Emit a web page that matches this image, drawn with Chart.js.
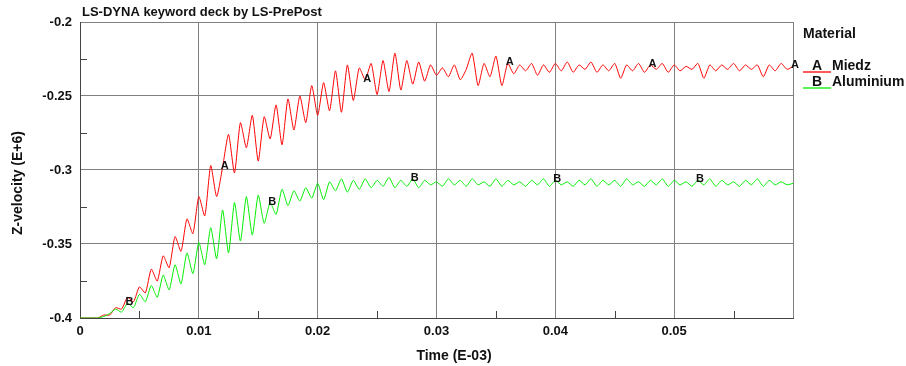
<!DOCTYPE html>
<html>
<head>
<meta charset="utf-8">
<script src="https://cdn.jsdelivr.net/npm/chart.js@4/dist/chart.umd.min.js"></script>
<style>
  body { margin: 0; background: #fff; }
  .wrap { width: 906px; height: 366px; position: relative; }
</style>
</head>
<body>
<div class="wrap"><canvas id="myChart"></canvas></div>
<script>
// time samples every 0.0005 (E-03 units), 0 .. 0.06
const timeStep = 0.0005

const miedz = [
    -0.400, -0.400, -0.400, -0.400, -0.398, -0.398, -0.393, -0.394, -0.386, -0.389,
    -0.379, -0.383, -0.367, -0.375, -0.358, -0.366, -0.345, -0.355, -0.333, -0.343,
    -0.318, -0.331, -0.297, -0.318, -0.298, -0.276, -0.302, -0.268, -0.285, -0.263,
    -0.294, -0.264, -0.279, -0.256, -0.283, -0.252, -0.273, -0.250, -0.268, -0.243,
    -0.263, -0.241, -0.260, -0.233, -0.261, -0.229, -0.253, -0.231, -0.239, -0.228,
    -0.249, -0.226, -0.247, -0.221, -0.246, -0.226, -0.242, -0.227, -0.240, -0.229,
    -0.236, -0.231, -0.237, -0.229, -0.239, -0.232, -0.221, -0.243, -0.228, -0.237,
    -0.223, -0.243, -0.228, -0.235, -0.229, -0.233, -0.228, -0.236, -0.229, -0.234,
    -0.228, -0.233, -0.227, -0.234, -0.229, -0.232, -0.227, -0.234, -0.229, -0.233,
    -0.228, -0.238, -0.229, -0.233, -0.228, -0.234, -0.229, -0.232, -0.228, -0.234,
    -0.229, -0.233, -0.230, -0.232, -0.228, -0.238, -0.229, -0.233, -0.229, -0.232,
    -0.228, -0.233, -0.229, -0.232, -0.229, -0.237, -0.229, -0.233, -0.228, -0.232,
    -0.230
]

const aluminium = [
    -0.400, -0.400, -0.400, -0.400, -0.399, -0.397, -0.394, -0.396, -0.390, -0.393,
    -0.384, -0.389, -0.378, -0.386, -0.371, -0.381, -0.364, -0.377, -0.356, -0.370,
    -0.349, -0.364, -0.339, -0.360, -0.327, -0.356, -0.322, -0.348, -0.318, -0.344,
    -0.317, -0.336, -0.322, -0.330, -0.313, -0.324, -0.314, -0.321, -0.312, -0.319,
    -0.309, -0.320, -0.308, -0.314, -0.306, -0.315, -0.307, -0.313, -0.306, -0.312,
    -0.307, -0.311, -0.305, -0.312, -0.307, -0.311, -0.306, -0.312, -0.307, -0.310,
    -0.308, -0.311, -0.306, -0.310, -0.307, -0.311, -0.306, -0.310, -0.308, -0.311,
    -0.306, -0.311, -0.307, -0.310, -0.308, -0.311, -0.307, -0.310, -0.306, -0.311,
    -0.307, -0.310, -0.308, -0.311, -0.307, -0.310, -0.306, -0.311, -0.307, -0.310,
    -0.307, -0.311, -0.306, -0.310, -0.308, -0.311, -0.307, -0.310, -0.306, -0.311,
    -0.307, -0.310, -0.308, -0.311, -0.307, -0.310, -0.306, -0.311, -0.307, -0.310,
    -0.308, -0.311, -0.307, -0.310, -0.306, -0.311, -0.307, -0.310, -0.308, -0.310,
    -0.309
]

const seriesNames = ['Miedz', 'Aluminium']
const seriesLetters = ['A', 'B']
const seriesColors = ['#ff0000', '#00ee00']
// where the curve letters sit along each curve
const letterTimes = [
    [0.012, 0.024, 0.036, 0.048, 0.060],
    [0.004, 0.016, 0.028, 0.040, 0.052]
]
const xMinor = [0.005, 0.015, 0.025, 0.035, 0.045, 0.055]
const yMinor = [-0.375, -0.325, -0.275, -0.225]

const toPoints = arr => arr.map((v, i) => ({ x: i * timeStep, y: v }))
const allSeries = [miedz, aluminium]

const font = 'Liberation Sans, Arial, Helvetica, sans-serif'

const overlay = {
    id: 'overlay',
    afterDraw(chart) {
        const { ctx, chartArea: area, scales: { x, y } } = chart
        ctx.save()

        // minor ticks, pointing into the plot
        ctx.strokeStyle = '#444'
        ctx.lineWidth = 1
        xMinor.forEach(v => {
            const px = Math.round(x.getPixelForValue(v)) + 0.5
            ctx.beginPath()
            ctx.moveTo(px, area.bottom)
            ctx.lineTo(px, area.bottom - 7)
            ctx.stroke()
        })
        yMinor.forEach(v => {
            const py = Math.round(y.getPixelForValue(v)) + 0.5
            ctx.beginPath()
            ctx.moveTo(area.left, py)
            ctx.lineTo(area.left + 7, py)
            ctx.stroke()
        })

        // curve letters on the curve points
        ctx.fillStyle = '#111'
        ctx.font = 'bold 11px ' + font
        ctx.textAlign = 'center'
        ctx.textBaseline = 'middle'
        letterTimes.forEach((times, s) => {
            times.forEach(t => {
                const idx = Math.round(t / timeStep)
                const px = x.getPixelForValue(t) + 2
                const py = y.getPixelForValue(allSeries[s][idx]) - 1
                ctx.fillText(seriesLetters[s], px, py)
            })
        })

        // title
        ctx.font = 'bold 13px ' + font
        ctx.textAlign = 'left'
        ctx.fillText('LS-DYNA keyword deck by LS-PrePost', area.left + 2, 12)

        // axis titles
        ctx.font = 'bold 14px ' + font
        ctx.textAlign = 'center'
        ctx.fillText('Time (E-03)', 454, 356)
        ctx.save()
        ctx.translate(18, 183)
        ctx.rotate(-Math.PI / 2)
        ctx.fillText('Z-velocity (E+6)', 0, 0)
        ctx.restore()

        // legend
        ctx.textAlign = 'left'
        ctx.fillText('Material', 803, 34)
        seriesNames.forEach((name, s) => {
            const ly = 66 + s * 16
            ctx.strokeStyle = seriesColors[s]
            ctx.lineWidth = 1.3
            ctx.beginPath()
            ctx.moveTo(803, ly + 6)
            ctx.lineTo(831, ly + 6)
            ctx.stroke()
            ctx.fillStyle = '#111'
            ctx.textAlign = 'center'
            ctx.fillText(seriesLetters[s], 817, ly)
            ctx.textAlign = 'left'
            ctx.fillText(name, 832, ly)
        })
        ctx.restore()
    }
}

const myChart = document.querySelector('#myChart')
const chart = new Chart(myChart.getContext('2d'), {
    type: 'line',
    data: {
        datasets: allSeries.map((arr, s) => ({
            label: seriesNames[s],
            data: toPoints(arr),
            borderColor: seriesColors[s],
            borderWidth: 1,
            pointRadius: 0,
            tension: 0.2,
            order: s === 1 ? 0 : 1
        }))
    },
    options: {
        responsive: true,
        maintainAspectRatio: false,
        animation: false,
        layout: { padding: { top: 22, right: 113, left: 0, bottom: 0 } },
        plugins: {
            legend: { display: false },
            tooltip: { enabled: false }
        },
        scales: {
            x: {
                type: 'linear',
                min: 0,
                max: 0.06,
                afterFit: scale => { scale.height = 48 },
                ticks: {
                    stepSize: 0.01,
                    padding: 6,
                    color: '#111',
                    font: { family: font, size: 13, weight: 'bold' },
                    maxRotation: 0,
                    callback: v => v > 0.0595 ? '' : String(Math.round(v * 100) / 100)
                },
                grid: { color: '#808080', drawTicks: false },
                border: { color: '#444' }
            },
            y: {
                min: -0.4,
                max: -0.2,
                afterFit: scale => { scale.width = 80 },
                ticks: {
                    stepSize: 0.05,
                    padding: 8,
                    color: '#111',
                    font: { family: font, size: 13, weight: 'bold' },
                    callback: v => String(Math.round(v * 100) / 100)
                },
                grid: { color: '#808080', drawTicks: false },
                border: { color: '#444' }
            }
        }
    },
    plugins: [overlay]
})
</script>
</body>
</html>
